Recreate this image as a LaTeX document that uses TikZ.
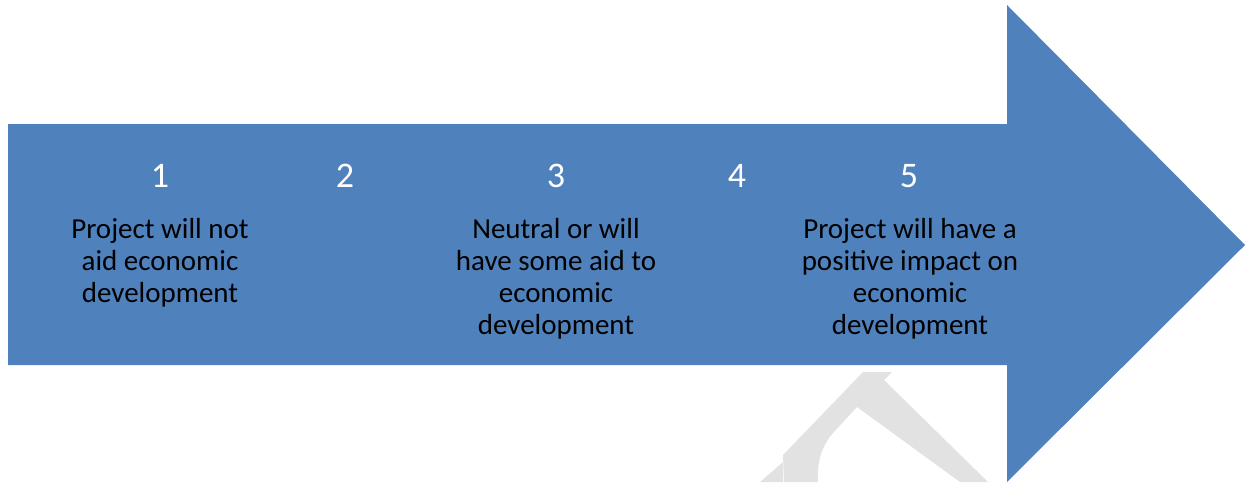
\documentclass[tikz,border=0pt]{standalone}
\usepackage{fontspec}
\setmainfont{Carlito}
\definecolor{arrowblue}{HTML}{4F81BD}
\definecolor{markgray}{HTML}{E2E2E2}
\tikzset{
  stepnum/.style={anchor=base, inner sep=0pt, text=white,
    font=\fontsize{36}{43}\selectfont},
  steptext/.style={anchor=north, inner sep=0pt, align=center, text=black,
    font=\fontsize{29}{32}\selectfont},
}
\begin{document}
\begin{tikzpicture}[x=1pt,y=-1pt]
  \useasboundingbox (0,0) rectangle (1245,482);
  % faint mark in the lower part of the page
  \fill[markgray] (784,482) -- (783,455) -- (863,372) -- (892,372) -- (884,380)
    -- (988,482) -- (960,482) -- (857,407) -- (833,433)
    .. controls (821,447) and (817,462) .. (818,482) -- cycle;
  \fill[markgray] (760,482) -- (783,462) -- (783,482) -- cycle;
  % the block arrow
  \fill[arrowblue] (8,124) -- (1007,124) -- (1007,5) -- (1245,245)
    -- (1007,482) -- (1007,365) -- (8,365) -- cycle;
  % scale numbers
  \node[stepnum] (n1) at (160,187) {1};
  \node[stepnum] (n2) at (345,187) {2};
  \node[stepnum] (n3) at (556,187) {3};
  \node[stepnum] (n4) at (737,187) {4};
  \node[stepnum] (n5) at (909,187) {5};
  % descriptions
  \node[steptext] (t1) at (160,218) {Project will not\\aid economic\\development};
  \node[steptext] (t3) at (556,218) {Neutral or will\\have some aid to\\economic\\development};
  \node[steptext] (t5) at (910,218) {Project will have a\\positive impact on\\economic\\development};
\end{tikzpicture}
\end{document}
